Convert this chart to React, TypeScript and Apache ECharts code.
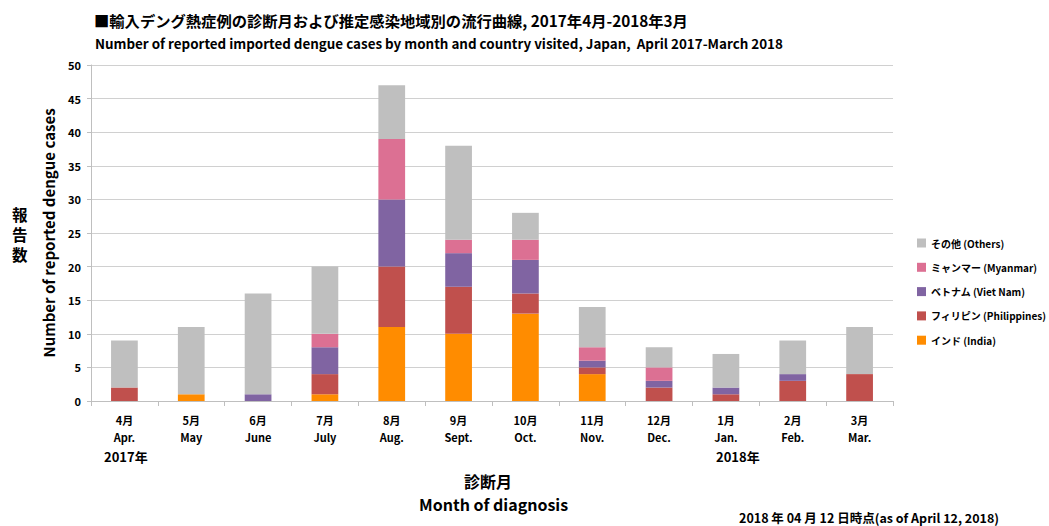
import React, { useEffect, useRef } from "react";
import * as echarts from "echarts";

const monthsJa = ["4月", "5月", "6月", "7月", "8月", "9月", "10月", "11月", "12月", "1月", "2月", "3月"];
const monthsEn = ["Apr.", "May", "June", "July", "Aug.", "Sept.", "Oct.", "Nov.", "Dec.", "Jan.", "Feb.", "Mar."];

const india = [0, 1, 0, 1, 11, 10, 13, 4, 0, 0, 0, 0];
const philippines = [2, 0, 0, 3, 9, 7, 3, 1, 2, 1, 3, 4];
const vietnam = [0, 0, 1, 4, 10, 5, 5, 1, 1, 1, 1, 0];
const myanmar = [0, 0, 0, 2, 9, 2, 3, 2, 2, 0, 0, 0];
const others = [7, 10, 15, 10, 8, 14, 4, 6, 3, 5, 5, 7];

const seriesNames = ["インド (India)", "フィリピン (Philippines)", "ベトナム (Viet Nam)", "ミャンマー (Myanmar)", "その他 (Others)"];
const seriesColors = ["#FF8C00", "#C0504D", "#8064A2", "#DC7093", "#BFBFBF"];
const legendOrder = ["その他 (Others)", "ミャンマー (Myanmar)", "ベトナム (Viet Nam)", "フィリピン (Philippines)", "インド (India)"];
const yTitleChars = ["報", "告", "数"];

const FONT = "'Noto Sans CJK JP', 'Noto Sans', sans-serif";

export default function App() {
  const ref = useRef<HTMLDivElement>(null);
  useEffect(() => {
    document.body.style.margin = "0";
    const chart = echarts.init(ref.current!, null, { renderer: "svg" });
    const data = [india, philippines, vietnam, myanmar, others];
    chart.setOption({
      animation: false,
      backgroundColor: "#ffffff",
      textStyle: { fontFamily: FONT },
      title: [
        {
          text: "■輸入デング熱症例の診断月および推定感染地域別の流行曲線, 2017年4月-2018年3月",
          left: 89,
          top: 7,
          textStyle: { fontSize: 15.3, fontWeight: "bold", color: "#000", fontFamily: FONT },
        },
        {
          text: "Number of reported imported dengue cases by month and country visited, Japan,  April 2017-March 2018",
          left: 90,
          top: 31,
          textStyle: { fontSize: 13.4, fontWeight: "bold", color: "#000", fontFamily: FONT },
        },
      ],
      legend: {
        data: legendOrder,
        orient: "vertical",
        left: 912,
        top: 231,
        itemWidth: 9,
        itemHeight: 9,
        itemGap: 10.3,
        icon: "rect",
        textStyle: { fontSize: 10, fontWeight: "bold", color: "#000", fontFamily: FONT, lineHeight: 14 },
      },
      grid: { left: 91, right: 156, top: 65, bottom: 125 },
      xAxis: {
        type: "category",
        data: monthsJa.map((m, i) => m + "\n" + monthsEn[i]),
        axisLine: { lineStyle: { color: "#BFBFBF", width: 1 } },
        axisTick: { show: true, alignWithLabel: false, length: 5, lineStyle: { color: "#BFBFBF" } },
        axisLabel: {
          color: "#000",
          fontSize: 11,
          fontWeight: "bold",
          lineHeight: 17,
          margin: 10,
          interval: 0,
          fontFamily: FONT,
        },
      },
      yAxis: {
        type: "value",
        min: 0,
        max: 50,
        interval: 5,
        name: "Number of reported dengue cases",
        nameLocation: "middle",
        nameRotate: 90,
        nameGap: 35,
        nameTextStyle: { fontSize: 15, fontWeight: "bold", color: "#000", fontFamily: FONT },
        axisLine: { show: true, lineStyle: { color: "#BFBFBF" } },
        axisTick: { show: true, length: 4, lineStyle: { color: "#BFBFBF" } },
        axisLabel: { color: "#000", fontSize: 11, fontWeight: "bold", margin: 10, fontFamily: FONT },
        splitLine: { lineStyle: { color: "#D0D0D0", width: 1 } },
      },
      series: seriesNames.map((name, i) => ({
        name,
        type: "bar",
        stack: "total",
        barWidth: "40%",
        data: data[i],
        itemStyle: { color: seriesColors[i] },
      })),
      graphic: [
        ...yTitleChars.map((ch, i) => ({
          type: "text",
          left: 12,
          top: 205 + i * 20,
          style: { text: ch, fill: "#000", font: "bold 15.5px " + FONT, lineHeight: 18 },
        })),
        {
          type: "text",
          left: 104,
          top: 450,
          style: { text: "2017年", fill: "#000", font: "bold 13px " + FONT },
        },
        {
          type: "text",
          left: 716,
          top: 450,
          style: { text: "2018年", fill: "#000", font: "bold 13px " + FONT },
        },
        {
          type: "text",
          left: 464,
          top: 473,
          style: { text: "診断月", fill: "#000", font: "bold 16px " + FONT },
        },
        {
          type: "text",
          left: 419,
          top: 496,
          style: { text: "Month of diagnosis", fill: "#000", font: "bold 16px " + FONT },
        },
        {
          type: "text",
          left: 739,
          top: 511,
          style: { text: "2018 年 04 月 12 日時点(as of April 12, 2018)", fill: "#000", font: "bold 12.5px " + FONT },
        },
      ],
    });
    return () => chart.dispose();
  }, []);
  return <div ref={ref} style={{ width: 1049, height: 526 }} />;
}
